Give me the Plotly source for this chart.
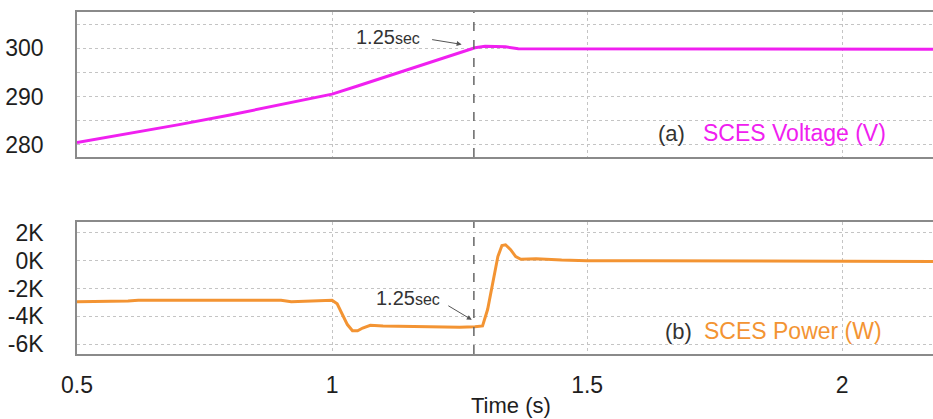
import plotly.graph_objects as go

# ---- data ----
time_v = [0.5, 0.6, 0.7, 0.8, 0.9, 1.0, 1.05, 1.1, 1.15, 1.2, 1.25, 1.28, 1.30, 1.32, 1.34, 1.365,
          1.5, 1.7, 1.9, 1.95, 2.0, 2.1, 2.18]
voltage = [280.5, 282.3, 284.2, 286.2, 288.3, 290.5, 292.2, 293.9, 295.6, 297.3, 299.1, 300.1, 300.4,
           300.4, 300.3, 299.9, 299.9, 299.9, 299.9, 299.8, 299.8, 299.8, 299.8]

time_p = [0.5, 0.55, 0.6, 0.62, 0.7, 0.8, 0.9, 0.92, 0.95, 1.0, 1.01, 1.02, 1.03, 1.04, 1.05, 1.06,
          1.075, 1.1, 1.15, 1.2, 1.25, 1.28, 1.295, 1.305, 1.315, 1.325, 1.333, 1.34, 1.35, 1.36,
          1.37, 1.4, 1.45, 1.5, 1.6, 1.7, 1.8, 1.85, 1.9, 1.95, 2.0, 2.1, 2.18]
power = [-2950, -2950, -2900, -2850, -2850, -2850, -2850, -2950, -2900, -2850, -3100, -3800, -4600,
         -5050, -5050, -4850, -4650, -4700, -4750, -4800, -4800, -4750, -4700, -3500, -1500, 300,
         1100, 1150, 800, 300, 100, 150, 50, 0, 0, 0, 0, -50, -50, 0, -50, -50, -50]

x_ticks = [0.5, 1, 1.5, 2]
x_ticktext = ["0.5", "1", "1.5", "2"]
v_ticks = [280, 285, 290, 295, 300, 305]
v_ticktext = ["280", "", "290", "", "300", ""]
p_ticks = [-6000, -4000, -2000, 0, 2000]
p_ticktext = ["-6K", "-4K", "-2K", "0K", "2K"]
event_time = 1.278

FONT = "Liberation Sans, Arial, sans-serif"
GRID = "#c4c4c4"
BORDER = "#8a8a8a"
MAGENTA = "#f020f0"
ORANGE = "#f39433"
TXT = "#1e1e1e"

fig = go.Figure()
fig.add_trace(go.Scatter(x=time_v, y=voltage, mode="lines", line=dict(color=MAGENTA, width=3),
                         xaxis="x", yaxis="y", showlegend=False))
fig.add_trace(go.Scatter(x=time_p, y=power, mode="lines", line=dict(color=ORANGE, width=3),
                         xaxis="x2", yaxis="y2", showlegend=False))

xr = [0.5, 2.178]
common_x = dict(range=xr, tickvals=x_ticks, showgrid=True, gridcolor=GRID, griddash="dot",
                gridwidth=1, zeroline=False, showline=True, linecolor=BORDER, linewidth=1.5,
                mirror=True, ticks="", automargin=False)
common_y = dict(showgrid=True, gridcolor=GRID, griddash="dot", zeroline=False, showline=True,
                linecolor=BORDER, linewidth=1.5, ticks="", ticklabelstandoff=27,
                automargin=False, tickfont=dict(size=23, color=TXT))
fig.update_layout(
    width=933, height=419,
    margin=dict(l=0, r=0, t=0, b=0, autoexpand=False),
    paper_bgcolor="white", plot_bgcolor="white",
    font=dict(family=FONT, color=TXT),
    xaxis=dict(domain=[77/933, 1], anchor="y", showticklabels=False, **common_x),
    yaxis=dict(domain=[1-157/419, 1-12/419], anchor="x", range=[277.5, 307.5],
               tickvals=v_ticks, ticktext=v_ticktext, **common_y),
    xaxis2=dict(domain=[77/933, 1], anchor="y2", ticktext=x_ticktext, showticklabels=True,
                ticklabelstandoff=10, tickfont=dict(size=23, color=TXT), **common_x),
    yaxis2=dict(domain=[1-354/419, 1-222/419], anchor="x2", range=[-6720, 2790],
                tickvals=p_ticks, ticktext=p_ticktext, **common_y),
)

# event dashed line on both panels
for xa, ya in (("x", "y"), ("x2", "y2")):
    fig.add_shape(type="line", xref=xa, yref=f"{ya} domain", x0=event_time, x1=event_time,
                  y0=0, y1=1, line=dict(color="#666666", width=1.5, dash="dash"))

lbl = '1.25<span style="font-size:16px">sec</span>'


def txt(x, y, text, size, color):
    return dict(xref="paper", yref="paper", x=x/933, y=1-y/419, text=text, showarrow=False,
                xanchor="center", yanchor="middle", font=dict(size=size, color=color))


annos = [
    # top panel
    txt(388, 37, lbl, 20, "#333333"),
    dict(xref="x", yref="y", x=1.254, y=300.8, ax=-31, ay=-5, text="", showarrow=True,
         arrowhead=2, arrowsize=1, arrowwidth=1, arrowcolor="#555555"),
    txt(671, 133, "(a)", 22, "#333333"),
    txt(794, 133, "SCES Voltage (V)", 23, MAGENTA),
    # bottom panel
    txt(408, 298, lbl, 20, "#333333"),
    dict(xref="x2", yref="y2", x=1.274, y=-4260, ax=-25, ay=-15, text="", showarrow=True,
         arrowhead=2, arrowsize=1, arrowwidth=1, arrowcolor="#555555"),
    txt(678, 331, "(b)", 22, "#333333"),
    txt(793, 331, "SCES Power (W)", 23, ORANGE),
    # axis title
    txt(511, 405, "Time (s)", 22, TXT),
]
fig.update_layout(annotations=annos)

fig.write_html("out.html")
